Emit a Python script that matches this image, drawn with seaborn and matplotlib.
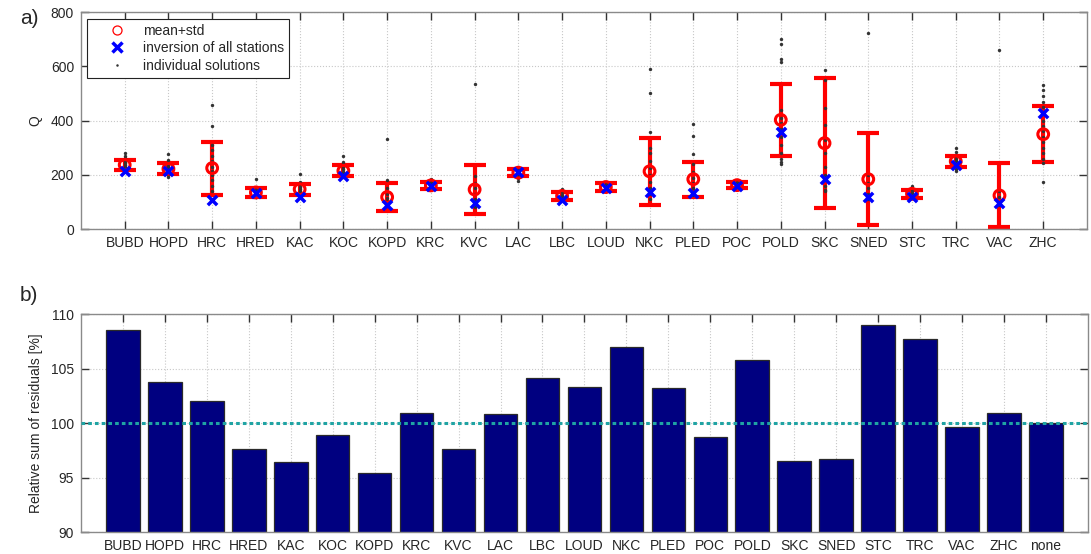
import numpy as np
import pandas as pd
import matplotlib
matplotlib.use("Agg")
import matplotlib.pyplot as plt
import seaborn as sns
from matplotlib.lines import Line2D

# ---------------- data ----------------
stations = ["BUBD", "HOPD", "HRC", "HRED", "KAC", "KOC", "KOPD", "KRC", "KVC", "LAC", "LBC",
            "LOUD", "NKC", "PLED", "POC", "POLD", "SKC", "SNED", "STC", "TRC", "VAC", "ZHC"]
q_mean = [237, 222, 225, 135, 147, 215, 118, 161, 146, 208, 122,
          155, 213, 184, 162, 403, 317, 184, 130, 250, 124, 350]
q_std = [19, 20, 98, 15, 21, 21, 51, 14, 89, 14, 14,
         14, 124, 65, 11, 132, 240, 170, 14, 20, 118, 104]
q_inversion = [213, 213, 106, 133, 118, 194, 90, 157, 96, 210, 108,
               151, 138, 133, 160, 358, 184, 118, 117, 235, 96, 428]
individual_solutions = [
    [280, 268, 262, 255, 248, 242, 236, 230, 225, 220],
    [278, 255, 240, 232, 225, 218, 210, 204, 198, 192],
    [456, 382, 310, 290, 270, 250, 230, 215, 200, 180, 160, 140],
    [184, 150, 142, 136, 130, 125, 120],
    [204, 175, 165, 155, 148, 140, 130, 125],
    [268, 248, 240, 230, 220, 212, 205, 198],
    [332, 182, 150, 130, 115, 105, 95, 85],
    [185, 175, 168, 162, 158, 152, 148],
    [534, 194, 170, 150, 130, 110, 95, 80],
    [230, 222, 215, 208, 200, 190, 178],
    [149, 135, 125, 118, 112, 108],
    [175, 165, 158, 152, 146, 140],
    [590, 501, 359, 299, 280, 250, 225, 200, 175, 150, 130, 110],
    [387, 342, 278, 240, 210, 190, 170, 150, 135, 125],
    [175, 168, 162, 158, 154, 150],
    [700, 682, 627, 618, 440, 410, 390, 370, 340, 310, 280, 260, 249, 240],
    [587, 550, 446, 385, 330, 280, 230, 200, 185, 160, 145, 140],
    [723, 200, 170, 150, 130, 110],
    [158, 145, 135, 128, 120, 115],
    [299, 285, 270, 260, 250, 240, 230, 220, 215],
    [661, 140, 120, 100, 90],
    [530, 514, 490, 470, 450, 430, 400, 380, 360, 340, 320, 300, 280, 260, 243, 172],
]

residual_stations = stations + ["none"]
residual_percent = [108.5, 103.8, 102.0, 97.6, 96.4, 98.9, 95.4, 100.9, 97.6, 100.85, 104.15,
                    103.3, 107.0, 103.2, 98.7, 105.8, 96.5, 96.7, 109.0, 107.7, 99.6, 100.95, 100.0]

q_ticks = [0, 200, 400, 600, 800]
r_ticks = [90, 95, 100, 105, 110]

# ---------------- style ----------------
sns.set_theme(style="ticks")
plt.rcParams["font.family"] = ["Liberation Sans", "DejaVu Sans"]
plt.rcParams["font.size"] = 10
plt.rcParams["axes.edgecolor"] = "#8a8a8a"
plt.rcParams["axes.linewidth"] = 1.0

fig = plt.figure(figsize=(10.91, 5.54), dpi=100)
ax1 = fig.add_axes([0.0742, 0.5866, 0.9221, 0.3912])
ax2 = fig.add_axes([0.0742, 0.0397, 0.9230, 0.3935])

df_sum = pd.DataFrame({"station": stations, "mean": q_mean, "std": q_std, "inv": q_inversion})
df_ind = pd.DataFrame([(s, v) for s, vals in zip(stations, individual_solutions) for v in vals],
                      columns=["station", "Q"])
df_res = pd.DataFrame({"station": residual_stations, "value": residual_percent})

# ---------------- panel a ----------------
ax1.errorbar(df_sum["station"], df_sum["mean"], yerr=df_sum["std"], fmt="none",
             ecolor="#ff0000", elinewidth=3, capsize=8, capthick=3, zorder=2)
sns.scatterplot(data=df_ind, x="station", y="Q", ax=ax1, color="#333333", marker="o",
                s=6, linewidth=0, zorder=3, legend=False)
sns.scatterplot(data=df_sum, x="station", y="mean", ax=ax1, color="#ff0000", facecolors="none",
                edgecolor="#ff0000", marker="o", s=60, linewidth=2.2, zorder=4, legend=False)
sns.scatterplot(data=df_sum, x="station", y="inv", ax=ax1, color="#0000ff", marker="x",
                s=45, linewidth=2.5, zorder=5, legend=False)

ax1.set_xlim(-1, len(stations))
ax1.set_ylim(0, 800)
ax1.set_yticks(q_ticks)
ax1.set_xlabel("")
ax1.set_ylabel("Q", fontsize=10, labelpad=6)
ax1.grid(True, linestyle=":", color="#c8c8c8", linewidth=0.8)
ax1.set_axisbelow(True)
ax1.tick_params(direction="in", top=True, right=True, length=6, width=1, color="#333333",
                labelsize=10, pad=5)

handles = [
    Line2D([], [], linestyle="none", marker="o", markerfacecolor="none", markeredgecolor="#ff0000",
           markersize=6.5, markeredgewidth=0.9),
    Line2D([], [], linestyle="none", marker="x", color="#0000ff", markersize=6.5, markeredgewidth=2.5),
    Line2D([], [], linestyle="none", marker="o", color="#333333", markersize=1.8, markeredgewidth=0),
]
leg = ax1.legend(handles, ["mean+std", "inversion of all stations", "individual solutions"],
                 loc="upper left", bbox_to_anchor=(0.006, 0.969), borderaxespad=0,
                 fancybox=False, framealpha=1, edgecolor="#222222", fontsize=10,
                 handlelength=3.6, handletextpad=0.1, labelspacing=0.25, borderpad=0.35)
leg.get_frame().set_linewidth(0.8)

# ---------------- panel b ----------------
sns.barplot(data=df_res, x="station", y="value", order=residual_stations, ax=ax2,
            color="#000080", saturation=1, edgecolor="#2a2a2a", linewidth=0.9, width=0.8)
ax2.axhline(100, color="#1fa3a3", linestyle=(0, (1.2, 1.0)), linewidth=2.2, zorder=3)
ax2.set_xlim(-1, len(residual_stations))
ax2.set_ylim(90, 110)
ax2.set_yticks(r_ticks)
ax2.set_xlabel("")
ax2.set_ylabel("Relative sum of residuals [%]", fontsize=10, labelpad=6)
ax2.grid(True, linestyle=":", color="#c8c8c8", linewidth=0.8)
ax2.set_axisbelow(True)
ax2.tick_params(direction="in", top=True, right=True, length=6, width=1, color="#333333",
                labelsize=10, pad=5)

for ax in (ax1, ax2):
    for sp in ax.spines.values():
        sp.set_visible(True)
        sp.set_color("#8a8a8a")

fig.text(0.018, 0.967, "a)", fontsize=15, va="center", ha="left")
fig.text(0.018, 0.467, "b)", fontsize=15, va="center", ha="left")

fig.savefig("out.png", dpi=100)
